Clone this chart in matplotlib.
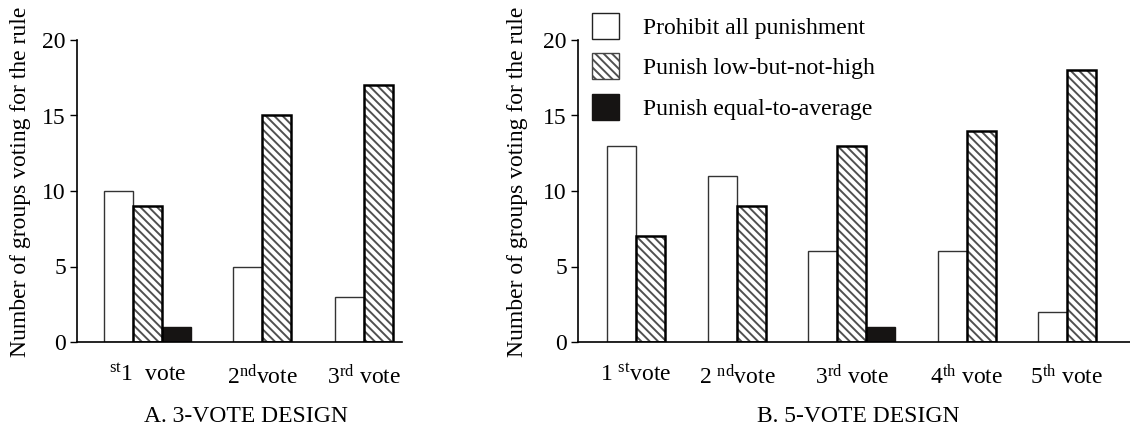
import matplotlib
matplotlib.use("Agg")
import matplotlib.pyplot as plt
from matplotlib.patches import Patch

plt.rcParams["font.family"] = ["Liberation Serif", "DejaVu Serif"]
plt.rcParams["mathtext.fontset"] = "custom"
plt.rcParams["mathtext.rm"] = "Liberation Serif"
plt.rcParams["mathtext.it"] = "Liberation Serif:italic"
plt.rcParams["hatch.linewidth"] = 1.4

# Datos
series = ["Prohibit all punishment", "Punish low-but-not-high", "Punish equal-to-average"]

a_labels = ["$^{\\rm st}$1  vote", "2$^{\\rm nd}$vote", "3$^{\\rm rd}$ vote"]
a_prohibit = [10, 5, 3]
a_low = [9, 15, 17]
a_equal = [1, 0, 0]

b_labels = ["1 $^{\\rm st}$vote", "2 $^{\\rm nd}$vote", "3$^{\\rm rd}$ vote",
            "4$^{\\rm th}$ vote", "5$^{\\rm th}$ vote"]
b_prohibit = [13, 11, 6, 6, 2]
b_low = [7, 9, 13, 14, 18]
b_equal = [0, 0, 1, 0, 0]

FS = 17
HATCH = "\\\\\\\\"
HCOL = "#505050"


def panel(ax, starts, labels, prohibit, low, equal, xlim, ylabelpad):
    ticks = []
    for g, s in enumerate(starts):
        vals = [prohibit[g], low[g], equal[g]]
        n = 0
        for k, v in enumerate(vals):
            if v == 0:
                continue
            x = s + k
            if k == 0:
                ax.bar(x, v, width=1, align="edge", facecolor="white",
                       edgecolor="#333333", linewidth=1.0, zorder=2)
            elif k == 1:
                ax.bar(x, v, width=1, align="edge", facecolor="white",
                       edgecolor=HCOL, hatch=HATCH, linewidth=0, zorder=2)
                ax.bar(x, v, width=1, align="edge", facecolor="none",
                       edgecolor="black", linewidth=1.8, zorder=3)
            else:
                ax.bar(x, v, width=1, align="edge", facecolor="#161413",
                       edgecolor="#161413", linewidth=1.0, zorder=2)
            n = k + 1
        ticks.append(s + n / 2)
    ax.set_xticks(ticks)
    ax.set_xticklabels(labels, fontsize=FS)
    ax.tick_params(axis="x", length=0, pad=16)
    ax.tick_params(axis="y", length=5, width=1, pad=3, labelsize=FS, direction="out")
    ax.set_xlim(*xlim)
    ax.set_ylim(0, 20)
    ax.set_yticks([0, 5, 10, 15, 20])
    for sp in ["top", "right"]:
        ax.spines[sp].set_visible(False)
    for sp in ["left", "bottom"]:
        ax.spines[sp].set_linewidth(1.2)
    ax.set_ylabel("Number of groups voting for the rule", fontsize=FS, labelpad=ylabelpad)
    ax.yaxis.label.set_y(0.53)


fig = plt.figure(figsize=(11.3, 4.38), dpi=100)
ax1 = fig.add_axes([77 / 1130, 1 - 342 / 438, 325 / 1130, 302 / 438])
ax2 = fig.add_axes([578 / 1130, 1 - 342 / 438, 552 / 1130, 302 / 438])

panel(ax1, [0, 4.45, 7.97], a_labels, a_prohibit, a_low, a_equal, (-0.93, 10.28), 8)
panel(ax2, [0, 3.48, 6.93, 11.41, 14.86], b_labels, b_prohibit, b_low, b_equal, (-1.0, 18.03), 11)

handles = [
    Patch(facecolor="white", edgecolor="#222222", linewidth=1.0),
    (Patch(facecolor="white", edgecolor=HCOL, hatch="\\\\\\\\", linewidth=0),
     Patch(facecolor="none", edgecolor="#444444", linewidth=1.0)),
    Patch(facecolor="#161413", edgecolor="#161413"),
]
fig.legend(handles, series, loc="upper left", bbox_to_anchor=(592 / 1130, 1 - 13 / 438),
           frameon=False, fontsize=FS, handlelength=1.15, handleheight=1.3,
           labelspacing=0.62, handletextpad=1.0, borderaxespad=0, borderpad=0)

fig.text(246 / 1130, 1 - 417 / 438, "A. 3-VOTE DESIGN", ha="center", va="center", fontsize=FS)
fig.text(858 / 1130, 1 - 417 / 438, "B. 5-VOTE DESIGN", ha="center", va="center", fontsize=FS)

fig.savefig("out.png", dpi=100)
